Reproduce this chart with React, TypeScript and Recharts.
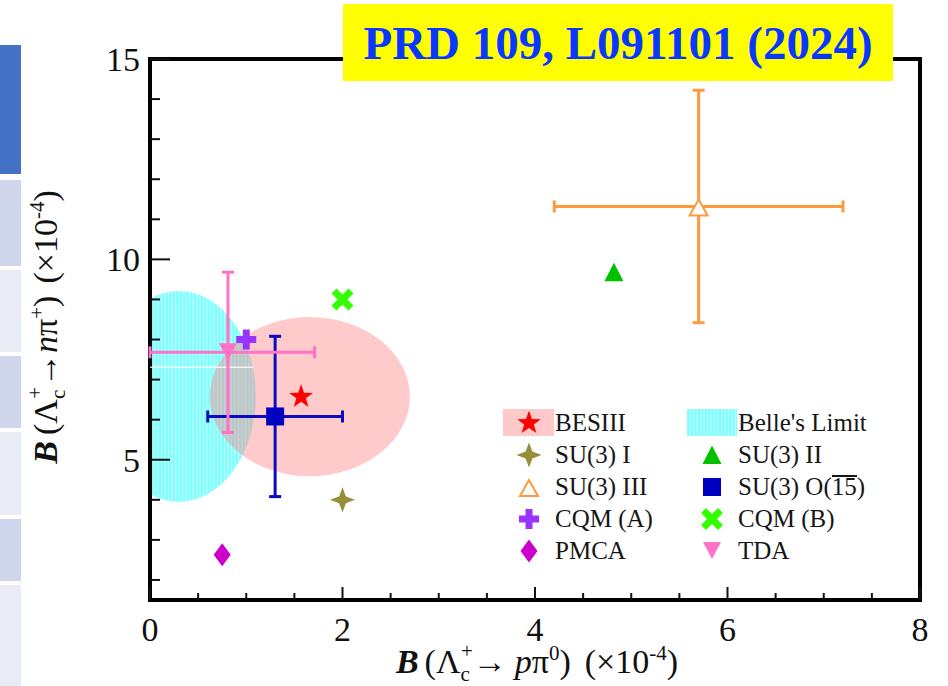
import {
  ErrorBar,
  Legend,
  ReferenceArea,
  ReferenceLine,
  Scatter,
  ScatterChart,
  XAxis,
  YAxis
} from "recharts";

const serif = '"Liberation Serif", "Times New Roman", serif';

// axis ticks
const xTicks = [0, 0.5, 1, 1.5, 2, 2.5, 3, 3.5, 4, 4.5, 5, 5.5, 6, 6.5, 7, 7.5, 8];
const xLabelTicks = [0, 2, 4, 6, 8];
const yTicks = [2, 3, 4, 5, 6, 7, 8, 9, 10, 11, 12, 13, 14, 15];
const yLabelTicks = [5, 10, 15];

// measurements / predictions (x = B(p pi0), y = B(n pi+), units 1e-4)
const besiii = [{ x: 1.57, y: 6.57 }];
const su3I = [{ x: 2.0, y: 4.0 }];
const su3II = [{ x: 4.82, y: 9.68 }];
const su3III = [{ x: 5.7, y: 11.32, ex: 1.5, ey: 2.9 }];
const su3O15 = [{ x: 1.3, y: 6.08, ex: 0.7, ey: 2.0 }];
const cqmA = [{ x: 1.0, y: 8.0 }];
const cqmB = [{ x: 2.0, y: 9.0 }];
const pmca = [{ x: 0.75, y: 2.63 }];
const tda = [{ x: 0.81, y: 7.68, ex: [0.81, 0.9], ey: 2.0 }];

// contour extents
const besiiiRegion = { x1: 0.62, x2: 2.7, y1: 4.59, y2: 8.56 };
const belleRegion = { x1: -0.5, x2: 1.1, y1: 3.95, y2: 9.21 };
const belleEdge = { x1: 0, x2: 1.07, y: 7.31 };

const legendItems = [
  { name: "BESIII", kind: "besiii" },
  { name: "Belle's Limit", kind: "belle" },
  { name: "SU(3) I", kind: "star4" },
  { name: "SU(3) II", kind: "tri" },
  { name: "SU(3) III", kind: "triOpen" },
  { name: "SU(3) O(15)", kind: "square" },
  { name: "CQM (A)", kind: "plus" },
  { name: "CQM (B)", kind: "cross" },
  { name: "PMCA", kind: "diamond" },
  { name: "TDA", kind: "triDown" }
];

// slide table strip on the left edge
const stripCells = [
  { top: 45, bottom: 174, c: "#4472c4" },
  { top: 180, bottom: 266, c: "#cfd5ea" },
  { top: 270, bottom: 352, c: "#e9ebf5" },
  { top: 356, bottom: 428, c: "#cfd5ea" },
  { top: 432, bottom: 515, c: "#e9ebf5" },
  { top: 519, bottom: 581, c: "#cfd5ea" },
  { top: 585, bottom: 686, c: "#e9ebf5" }
];

function Marker({ kind, cx, cy }: { kind: string; cx: number; cy: number }) {
  if (kind === "star") {
    const pts: string[] = [];
    for (let i = 0; i < 10; i++) {
      const r = i % 2 === 0 ? 12.5 : 5;
      const a = -Math.PI / 2 + (i * Math.PI) / 5;
      pts.push(`${cx + r * Math.cos(a)},${cy + r * Math.sin(a)}`);
    }
    return <polygon points={pts.join(" ")} fill="#ff0000" />;
  }
  if (kind === "star4") {
    const r = 12.5;
    const k = 3.4;
    const d = `M${cx},${cy - r} L${cx + k},${cy - k} L${cx + r},${cy} L${cx + k},${cy + k} L${cx},${cy + r} L${cx - k},${cy + k} L${cx - r},${cy} L${cx - k},${cy - k} Z`;
    return <path d={d} fill="#948f38" />;
  }
  if (kind === "triOpen") {
    return (
      <polygon
        points={`${cx},${cy - 7} ${cx + 9},${cy + 9} ${cx - 9},${cy + 9}`}
        fill="#fff"
        stroke="#ff9a3c"
        strokeWidth={2}
      />
    );
  }
  if (kind === "tri") {
    return <polygon points={`${cx},${cy - 9.5} ${cx + 9.5},${cy + 9} ${cx - 9.5},${cy + 9}`} fill="#00c000" />;
  }
  if (kind === "triDown") {
    return <polygon points={`${cx - 9},${cy - 9} ${cx + 9},${cy - 9} ${cx},${cy + 8}`} fill="#ff73c6" />;
  }
  if (kind === "square") {
    return <rect x={cx - 9} y={cy - 9} width={18} height={18} fill="#0000c0" />;
  }
  if (kind === "plus") {
    return (
      <g fill="#9933ff">
        <rect x={cx - 10} y={cy - 3.5} width={20} height={7} />
        <rect x={cx - 3.5} y={cy - 10} width={7} height={20} />
      </g>
    );
  }
  if (kind === "cross") {
    return (
      <g fill="#33ff00" transform={`rotate(45 ${cx} ${cy})`}>
        <rect x={cx - 12} y={cy - 3.5} width={24} height={7} />
        <rect x={cx - 3.5} y={cy - 12} width={7} height={24} />
      </g>
    );
  }
  if (kind === "diamond") {
    return <polygon points={`${cx},${cy - 11.5} ${cx + 8.5},${cy} ${cx},${cy + 11.5} ${cx - 8.5},${cy}`} fill="#cc00cc" />;
  }
  return null;
}

const shapeOf = (kind: string) => (p: any) => <Marker kind={kind} cx={p.cx} cy={p.cy} />;

const ellipseShape = (fill: string, opacity: number) => (p: any) => (
  <ellipse
    cx={p.x + p.width / 2}
    cy={p.y + p.height / 2}
    rx={Math.abs(p.width) / 2}
    ry={Math.abs(p.height) / 2}
    fill={fill}
    fillOpacity={opacity}
    clipPath={p.clipPath}
  />
);

function XTick(props: any) {
  const { x, y, payload } = props;
  const major = xLabelTicks.includes(payload.value);
  return (
    <g>
      <line x1={x} x2={x} y1={y} y2={y - (major ? 13 : 7)} stroke="#111" strokeWidth={2} />
      {major && (
        <text x={x} y={y + 41} textAnchor="middle" fontFamily={serif} fontSize={34} fill="#111">
          {payload.value}
        </text>
      )}
    </g>
  );
}

function YTick(props: any) {
  const { x, y, payload } = props;
  const major = yLabelTicks.includes(payload.value);
  return (
    <g>
      <line x1={x} x2={x + (major ? 20 : 10)} y1={y} y2={y} stroke="#111" strokeWidth={2} />
      {major && (
        <text x={x - 10} y={y + 12} textAnchor="end" fontFamily={serif} fontSize={34} fill="#111">
          {payload.value}
        </text>
      )}
    </g>
  );
}

function AxisTitle({ particle, arrowGap }: { particle: string; arrowGap: number }) {
  return (
    <>
      <tspan fontWeight="bold" fontStyle="italic">B</tspan>
      <tspan dx={6}>(Λ</tspan>
      <tspan fontSize={21} dy={8}>c</tspan>
      <tspan fontSize={21} dx={-9} dy={-23}>+</tspan>
      <tspan dy={15}>→</tspan>
      <tspan dx={arrowGap} fontStyle="italic">{particle}</tspan>
      <tspan>π</tspan>
    </>
  );
}

function XLabel() {
  return (
    <text x={537} y={673} textAnchor="middle" fontFamily={serif} fontSize={34} fill="#111">
      <AxisTitle particle="p" arrowGap={8} />
      <tspan fontSize={21} dy={-13}>0</tspan>
      <tspan dy={13}>)</tspan>
      <tspan dx={14}>(×10</tspan>
      <tspan fontSize={21} dy={-13}>-4</tspan>
      <tspan dy={13}>)</tspan>
    </text>
  );
}

function YLabel() {
  return (
    <text transform="translate(57,327) rotate(-90)" textAnchor="middle" fontFamily={serif} fontSize={34} fill="#111">
      <AxisTitle particle="n" arrowGap={0} />
      <tspan fontSize={21} dy={-13}>+</tspan>
      <tspan dy={13}>)</tspan>
      <tspan dx={12}>(×10</tspan>
      <tspan fontSize={21} dy={-13}>-4</tspan>
      <tspan dy={13}>)</tspan>
    </text>
  );
}

function Stripes({ id }: { id: string }) {
  return (
    <pattern id={id} width={3.5} height={10} patternUnits="userSpaceOnUse">
      <rect width={3.5} height={10} fill="#80ffff" />
      <line x1={0.5} x2={0.5} y1={0} y2={10} stroke="#fff" strokeOpacity={0.55} strokeWidth={1} />
    </pattern>
  );
}

function LegendBox() {
  const rowY = (i: number) => 28 + Math.floor(i / 2) * 32;
  const markX = (i: number) => (i % 2 === 0 ? 39 : 222);
  const textX = (i: number) => (i % 2 === 0 ? 65 : 248);
  return (
    <div style={{ position: "relative", width: 430, height: 175, fontFamily: serif, fontSize: 25, color: "#161616" }}>
      <svg width={430} height={175} style={{ position: "absolute", left: 0, top: 0 }}>
        <defs>
          <Stripes id="belleStripesLegend" />
        </defs>
        {legendItems.map((it, i) => {
          if (it.kind === "besiii") {
            return (
              <g key={it.name}>
                <rect x={13} y={14} width={51} height={27} fill="#ffc9c9" />
                <Marker kind="star" cx={markX(i)} cy={rowY(i)} />
              </g>
            );
          }
          if (it.kind === "belle") {
            return <rect key={it.name} x={197} y={14} width={50} height={27} fill="url(#belleStripesLegend)" />;
          }
          return <Marker key={it.name} kind={it.kind} cx={markX(i)} cy={rowY(i)} />;
        })}
      </svg>
      {legendItems.map((it, i) => (
        <div
          key={it.name}
          style={{ position: "absolute", left: textX(i), top: rowY(i) - 16, lineHeight: "32px", whiteSpace: "nowrap" }}
        >
          {it.name === "SU(3) O(15)" ? (
            <>
              SU(3) O(
              <span style={{ display: "inline-block", lineHeight: "20px", borderTop: "2.5px solid #161616" }}>15</span>)
            </>
          ) : (
            it.name
          )}
        </div>
      ))}
    </div>
  );
}

export default function App() {
  return (
    <div style={{ position: "absolute", left: 0, top: 0, width: 948, height: 686, background: "#fff", overflow: "hidden" }}>
      {stripCells.map((s, i) => (
        <div
          key={i}
          style={{ position: "absolute", left: 0, top: s.top, width: 21, height: s.bottom - s.top, background: s.c }}
        />
      ))}
      <ScatterChart width={948} height={686} margin={{ top: 59, right: 28, bottom: 0, left: 0 }}>
        <defs>
          <Stripes id="belleStripes" />
        </defs>
        <XAxis
          type="number"
          dataKey="x"
          domain={[0, 8]}
          ticks={xTicks}
          interval={0}
          tick={XTick}
          tickLine={false}
          axisLine={false}
          tickSize={0}
          tickMargin={0}
          height={86}
          allowDataOverflow
          label={{ content: () => <XLabel /> }}
        />
        <YAxis
          type="number"
          dataKey="y"
          domain={[1.5, 15]}
          ticks={yTicks}
          interval={0}
          tick={YTick}
          tickLine={false}
          axisLine={false}
          tickSize={0}
          tickMargin={0}
          width={150}
          allowDataOverflow
          label={{ content: () => <YLabel /> }}
        />
        <ReferenceArea
          {...belleRegion}
          ifOverflow="hidden"
          shape={ellipseShape("url(#belleStripes)", 1)}
        />
        <ReferenceLine
          segment={[
            { x: belleEdge.x1, y: belleEdge.y },
            { x: belleEdge.x2, y: belleEdge.y }
          ]}
          stroke="#fff"
          strokeOpacity={0.8}
          strokeWidth={1.5}
          ifOverflow="visible"
        />
        <ReferenceArea {...besiiiRegion} ifOverflow="visible" shape={ellipseShape("#ff8080", 0.42)} />

        <Scatter data={su3III} shape={shapeOf("triOpen")} isAnimationActive={false}>
          <ErrorBar dataKey="ex" direction="x" stroke="#ff9a3c" strokeWidth={3} width={6} />
          <ErrorBar dataKey="ey" direction="y" stroke="#ff9a3c" strokeWidth={3} width={6} />
        </Scatter>
        <Scatter data={su3O15} shape={shapeOf("square")} isAnimationActive={false}>
          <ErrorBar dataKey="ex" direction="x" stroke="#0a0abf" strokeWidth={3} width={6} />
          <ErrorBar dataKey="ey" direction="y" stroke="#0a0abf" strokeWidth={3} width={6} />
        </Scatter>
        <Scatter data={tda} shape={shapeOf("triDown")} isAnimationActive={false}>
          <ErrorBar dataKey="ex" direction="x" stroke="#ff73c6" strokeWidth={3} width={6} />
          <ErrorBar dataKey="ey" direction="y" stroke="#ff73c6" strokeWidth={3} width={6} />
        </Scatter>
        <Scatter data={besiii} shape={shapeOf("star")} isAnimationActive={false} />
        <Scatter data={su3I} shape={shapeOf("star4")} isAnimationActive={false} />
        <Scatter data={su3II} shape={shapeOf("tri")} isAnimationActive={false} />
        <Scatter data={cqmA} shape={shapeOf("plus")} isAnimationActive={false} />
        <Scatter data={cqmB} shape={shapeOf("cross")} isAnimationActive={false} />
        <Scatter data={pmca} shape={shapeOf("diamond")} isAnimationActive={false} />

        <ReferenceArea x1={0} x2={8} y1={1.5} y2={15} fill="none" stroke="#000" strokeWidth={4} ifOverflow="visible" />
        <Legend
          layout="horizontal"
          verticalAlign="middle"
          align="center"
          content={() => <LegendBox />}
          wrapperStyle={{ position: "absolute", left: 490, top: 395, width: 430, height: 175 }}
        />
      </ScatterChart>
      <div
        style={{
          position: "absolute",
          left: 343,
          top: 4,
          width: 550,
          height: 77,
          background: "#ffff00",
          display: "flex",
          alignItems: "center",
          justifyContent: "center",
          fontFamily: serif,
          fontWeight: "bold",
          fontSize: 47,
          color: "#0838ff",
          whiteSpace: "nowrap"
        }}
      >
        PRD 109, L091101 (2024)
      </div>
    </div>
  );
}
